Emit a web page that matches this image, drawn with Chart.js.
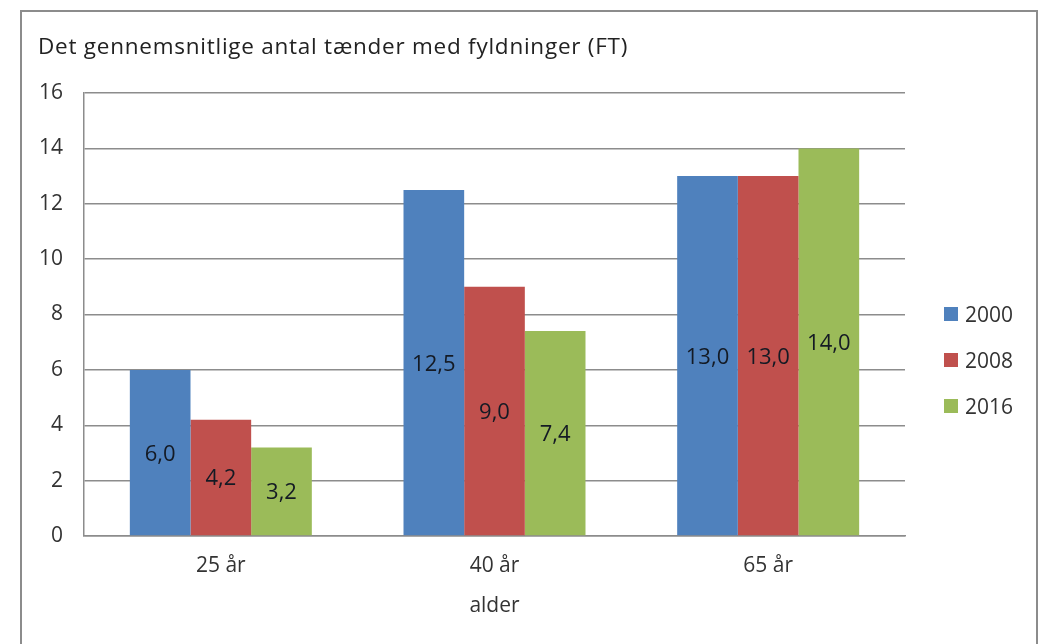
<!DOCTYPE html>
<html>
<head>
<meta charset="utf-8">
<script src="https://cdn.jsdelivr.net/npm/chart.js@4/dist/chart.umd.min.js"></script>
<style>
  html, body { margin: 0; padding: 0; background: #fff; }
  #wrap { width: 1043px; height: 644px; position: relative; }
</style>
</head>
<body>
<div id="wrap"><canvas id="c" width="1043" height="644"></canvas></div>
<script>
const categories = ['25 år', '40 år', '65 år'];
const seriesNames = ['2000', '2008', '2016'];
const values2000 = [6.0, 12.5, 13.0];
const values2008 = [4.2, 9.0, 13.0];
const values2016 = [3.2, 7.4, 14.0];
const yTicks = [0, 2, 4, 6, 8, 10, 12, 14, 16];
const chartTitle = 'Det gennemsnitlige antal tænder med fyldninger (FT)';
const xAxisTitle = 'alder';
const colors = ['#4F81BD', '#C0504D', '#9BBB59'];

const FONT = '"Open Sans", Lato, "Liberation Sans", sans-serif';
const fmt = v => v.toFixed(1).replace('.', ',');

const decor = {
  id: 'decor',
  beforeDraw(chart) {
    const ctx = chart.ctx;
    ctx.save();
    ctx.fillStyle = '#fff';
    ctx.fillRect(0, 0, chart.width, chart.height);
    ctx.strokeStyle = '#8c8c8c';
    ctx.lineWidth = 2;
    ctx.strokeRect(21, 11, 1016, 700);
    ctx.restore();
  },
  afterDraw(chart) {
    const ctx = chart.ctx;
    const ca = chart.chartArea;
    ctx.save();
    // title
    ctx.fillStyle = '#222';
    ctx.font = '22.5px ' + FONT;
    ctx.textAlign = 'left';
    ctx.textBaseline = 'alphabetic';
    if ('letterSpacing' in ctx) ctx.letterSpacing = '0.75px';
    ctx.fillText(chartTitle, 38, 54);
    if ('letterSpacing' in ctx) ctx.letterSpacing = '0px';
    // x axis title
    ctx.fillStyle = '#333';
    ctx.font = '21px ' + FONT;
    ctx.textAlign = 'center';
    ctx.fillText(xAxisTitle, (ca.left + ca.right) / 2, 612);
    // data labels
    ctx.fillStyle = '#141a24';
    ctx.font = '22px ' + FONT;
    chart.data.datasets.forEach((ds, i) => {
      const meta = chart.getDatasetMeta(i);
      meta.data.forEach((bar, j) => {
        const yc = (bar.y + bar.base) / 2;
        ctx.fillText(fmt(ds.data[j]), bar.x, yc + 8);
      });
    });
    // legend
    const ys = [314, 360, 406];
    ctx.textAlign = 'left';
    ctx.font = '21px ' + FONT;
    chart.data.datasets.forEach((ds, i) => {
      ctx.fillStyle = colors[i];
      ctx.fillRect(944, ys[i] - 7, 14, 14);
      ctx.fillStyle = '#333';
      ctx.fillText(ds.label, 965, ys[i] + 7.5);
    });
    ctx.restore();
  }
};

new Chart(document.getElementById('c'), {
  type: 'bar',
  data: {
    labels: categories,
    datasets: [
      { label: seriesNames[0], data: values2000, backgroundColor: colors[0] },
      { label: seriesNames[1], data: values2008, backgroundColor: colors[1] },
      { label: seriesNames[2], data: values2016, backgroundColor: colors[2] }
    ]
  },
  options: {
    responsive: false,
    animation: false,
    devicePixelRatio: 1,
    layout: { padding: { top: 93, right: 138, left: 0, bottom: 0 } },
    datasets: { bar: { barPercentage: 1, categoryPercentage: 0.665, borderWidth: 0 } },
    plugins: { legend: { display: false }, tooltip: { enabled: false }, title: { display: false } },
    scales: {
      x: {
        grid: { display: false, drawTicks: false },
        border: { display: true, color: '#8c8c8c', width: 1.5 },
        ticks: { color: '#333', font: { family: FONT, size: 21 }, padding: 17 },
        afterFit(scale) { scale.height = 108; }
      },
      y: {
        min: 0, max: 16,
        afterBuildTicks(scale) { scale.ticks = yTicks.map(v => ({ value: v })); },
        grid: { color: '#8c8c8c', lineWidth: 1.5, drawTicks: false },
        border: { display: true, color: '#8c8c8c', width: 1.5 },
        ticks: { color: '#333', font: { family: FONT, size: 21 }, padding: 21 },
        afterFit(scale) { scale.width = 84; }
      }
    }
  },
  plugins: [decor]
});
</script>
</body>
</html>
